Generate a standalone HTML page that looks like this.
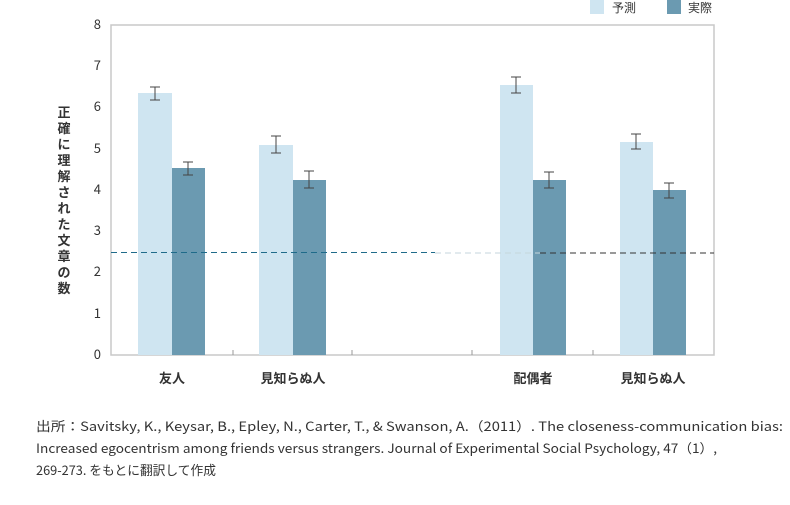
<!DOCTYPE html>
<html><head><meta charset="utf-8"><style>
body{margin:0;background:#fff;width:790px;height:500px;overflow:hidden;font-family:"Noto Sans CJK JP",sans-serif}
</style></head><body>
<svg width="790" height="500" xmlns="http://www.w3.org/2000/svg" font-family="Noto Sans CJK JP, Liberation Sans, sans-serif">
<rect x="590" y="0" width="14" height="14" fill="#cfe5f1"/>
<text x="612" y="12" font-size="12" fill="#333">予測</text>
<rect x="667" y="0" width="14" height="14" fill="#6b9ab1"/>
<text x="688" y="12" font-size="12" fill="#333">実際</text>
<rect x="111" y="25" width="603" height="330" fill="none" stroke="#c8c8c8" stroke-width="1.5"/>
<g font-size="13" fill="#333" text-anchor="end">
<text x="101" y="359">0</text><text x="101" y="318">1</text><text x="101" y="276">2</text><text x="101" y="235">3</text><text x="101" y="194">4</text><text x="101" y="153">5</text><text x="101" y="111">6</text><text x="101" y="70">7</text><text x="101" y="29">8</text>
</g>
<g font-size="13" font-weight="bold" fill="#333" text-anchor="middle">
<text x="64" y="117">正</text><text x="64" y="133">確</text><text x="64" y="149">に</text><text x="64" y="165">理</text><text x="64" y="181">解</text><text x="64" y="197">さ</text><text x="64" y="213">れ</text><text x="64" y="229">た</text><text x="64" y="245">文</text><text x="64" y="261">章</text><text x="64" y="277">の</text><text x="64" y="293">数</text>
</g>
<g fill="#cfe5f1">
<rect x="138" y="93" width="34" height="262"/><rect x="259" y="145" width="34" height="210"/><rect x="500" y="85" width="33" height="270"/><rect x="620" y="142" width="33" height="213"/>
</g>
<g fill="#6b9ab1">
<rect x="172" y="168" width="33" height="187"/><rect x="293" y="180" width="33" height="175"/><rect x="533" y="180" width="33" height="175"/><rect x="653" y="190" width="33" height="165"/>
</g>
<g stroke="#444" stroke-width="1" fill="none">
<path d="M155 87V100M150 87H160M150 100H160"/>
<path d="M188 162V175M183 162H193M183 175H193"/>
<path d="M276 136V153M271 136H281M271 153H281"/>
<path d="M309 171V188M304 171H314M304 188H314"/>
<path d="M516 77V93M511 77H521M511 93H521"/>
<path d="M549 172V188M544 172H554M544 188H554"/>
<path d="M636 134V149M631 134H641M631 149H641"/>
<path d="M669 183V198M664 183H674M664 198H674"/>
</g>
<line x1="111" y1="252.5" x2="435" y2="252.5" stroke="#1f6b8a" stroke-width="1" stroke-dasharray="6,4"/>
<line x1="435" y1="253" x2="540" y2="253" stroke="#c6d6dc" stroke-width="1" stroke-dasharray="6,4"/>
<line x1="540" y1="253" x2="714" y2="253" stroke="#333" stroke-width="1" stroke-dasharray="6,4"/>
<g stroke="#999" stroke-width="1"><line x1="233" y1="350" x2="233" y2="355"/><line x1="352" y1="350" x2="352" y2="355"/><line x1="472" y1="350" x2="472" y2="355"/><line x1="593" y1="350" x2="593" y2="355"/></g>
<g font-size="13" font-weight="bold" fill="#333" text-anchor="middle">
<text x="172" y="383">友人</text><text x="293" y="383">見知らぬ人</text><text x="533" y="383">配偶者</text><text x="653" y="383">見知らぬ人</text>
</g>
<g font-size="13" fill="#333">
<text x="36" y="431" textLength="747" lengthAdjust="spacingAndGlyphs">出所：Savitsky, K., Keysar, B., Epley, N., Carter, T., &amp; Swanson, A.（2011）. The closeness-communication bias:</text>
<text x="36" y="453" textLength="681" lengthAdjust="spacingAndGlyphs">Increased egocentrism among friends versus strangers. Journal of Experimental Social Psychology, 47（1）,</text>
<text x="36" y="475" textLength="180" lengthAdjust="spacingAndGlyphs">269-273. をもとに翻訳して作成</text>
</g>
</svg>
</body></html>
